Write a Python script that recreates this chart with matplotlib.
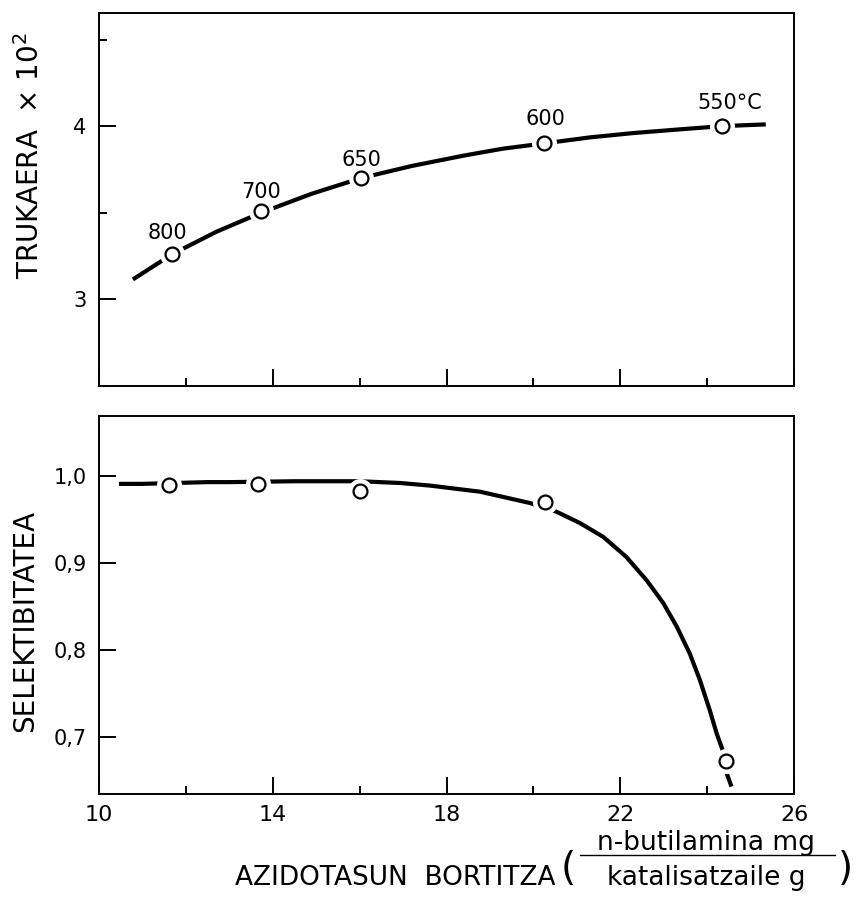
import matplotlib
matplotlib.use("Agg")
import matplotlib.pyplot as plt
from matplotlib.ticker import MultipleLocator, FixedLocator, FuncFormatter
from matplotlib.lines import Line2D

# measured points (temperature labels on the upper panel)
temps = ["800", "700", "650", "600", "550°C"]
conv_x = [11.68, 13.73, 16.03, 20.24, 24.34]
conv_y = [3.26, 3.51, 3.70, 3.90, 4.00]

sel_x = [11.61, 13.66, 16.01, 20.26, 24.43]
sel_y = [0.990, 0.991, 0.983, 0.970, 0.672]

# hand-drawn trend curves
conv_curve_x = [10.78, 11.68, 12.7, 13.73, 14.9, 16.03, 17.2, 18.4, 19.3, 20.24, 21.3, 22.3, 23.3, 24.34, 25.35]
conv_curve_y = [3.115, 3.26, 3.39, 3.50, 3.61, 3.70, 3.77, 3.83, 3.87, 3.90, 3.935, 3.96, 3.98, 4.00, 4.01]

sel_curve_x = [10.46, 11.0, 12.5, 13.0, 14.5, 16.0, 16.93, 17.62, 18.77, 19.92, 20.53, 21.07, 21.61,
               22.14, 22.61, 22.99, 23.30, 23.60, 23.83, 24.06, 24.22, 24.35, 24.41, 24.56]
sel_curve_y = [0.991, 0.991, 0.993, 0.993, 0.994, 0.994, 0.992, 0.989, 0.982, 0.969, 0.959, 0.946, 0.930,
               0.907, 0.880, 0.854, 0.827, 0.796, 0.766, 0.731, 0.704, 0.686, 0.664, 0.643]

x_major = [10, 14, 18, 22, 26]
x_minor = [12, 16, 20, 24]

# label offsets (points) for the temperature annotations
label_offsets = [(-3.6, 15), (0, 13.7), (0.7, 13), (1.4, 17.3), (5.8, 16.6)]

W, H = 857, 906
plt.rcParams["font.family"] = ["DejaVu Sans"]
plt.rcParams["mathtext.fontset"] = "dejavusans"

fig = plt.figure(figsize=(W / 100, H / 100), dpi=100)
ax1 = fig.add_axes([99 / W, 1 - 386 / H, 695 / W, 373 / H])
ax2 = fig.add_axes([99 / W, 1 - 794 / H, 695 / W, 378 / H])


def style(ax):
    for s in ax.spines.values():
        s.set_linewidth(1.4)
    ax.xaxis.set_major_locator(FixedLocator(x_major))
    ax.xaxis.set_minor_locator(FixedLocator(x_minor))
    ax.tick_params(which="both", direction="in", width=1.4, top=False, right=False)
    ax.tick_params(which="major", length=12)
    ax.tick_params(which="minor", length=6)
    ax.tick_params(axis="y", labelsize=15, pad=9)
    ax.tick_params(axis="x", labelsize=16, pad=8)
    ax.set_xlim(10, 26)


def draw_series(ax, cx, cy, px, py):
    ax.plot(cx, cy, color="black", lw=3, solid_capstyle="butt", zorder=2)
    ax.plot(px, py, "o", ms=18, mfc="white", mec="none", zorder=3)
    ax.plot(px, py, "o", ms=10, mfc="white", mec="black", mew=1.6, zorder=4)


# upper panel: conversion
style(ax1)
ax1.set_ylim(2.5, 4.653)
ax1.yaxis.set_major_locator(MultipleLocator(1))
ax1.yaxis.set_minor_locator(MultipleLocator(0.5))
ax1.yaxis.set_major_formatter(FuncFormatter(lambda v, _: f"{v:.0f}"))
ax1.tick_params(axis="x", labelbottom=False)
draw_series(ax1, conv_curve_x, conv_curve_y, conv_x, conv_y)
for t, x, y, off in zip(temps, conv_x, conv_y, label_offsets):
    ax1.annotate(t, (x, y), xytext=off, textcoords="offset points",
                 ha="center", va="center", fontsize=15)

# lower panel: selectivity
style(ax2)
ax2.set_ylim(0.6345, 1.069)
ax2.yaxis.set_major_locator(MultipleLocator(0.1))
ax2.yaxis.set_minor_locator(plt.NullLocator())
ax2.yaxis.set_major_formatter(FuncFormatter(lambda v, _: f"{v:.1f}".replace(".", ",")))
draw_series(ax2, sel_curve_x, sel_curve_y, sel_x, sel_y)

# axis titles
fig.text(30 / W, 1 - 156 / H, "TRUKAERA  × 10$^{2}$", rotation=90,
         ha="center", va="center", fontsize=20)
fig.text(25 / W, 1 - 621 / H, "SELEKTIBITATEA", rotation=90,
         ha="center", va="center", fontsize=20)

fig.text(235 / W, 1 - 885 / H, "AZIDOTASUN  BORTITZA", ha="left", va="baseline", fontsize=19)
fig.text(568 / W, 1 - 869 / H, "(", ha="center", va="center", fontsize=28)
fig.text(845 / W, 1 - 869 / H, ")", ha="center", va="center", fontsize=28)
fig.text(706 / W, 1 - 850 / H, "n-butilamina mg", ha="center", va="baseline", fontsize=19)
fig.text(706 / W, 1 - 885 / H, "katalisatzaile g", ha="center", va="baseline", fontsize=19)
fig.add_artist(Line2D([580 / W, 835 / W], [1 - 855 / H, 1 - 855 / H], color="black", lw=1.0))

fig.savefig("out.png", dpi=100)
